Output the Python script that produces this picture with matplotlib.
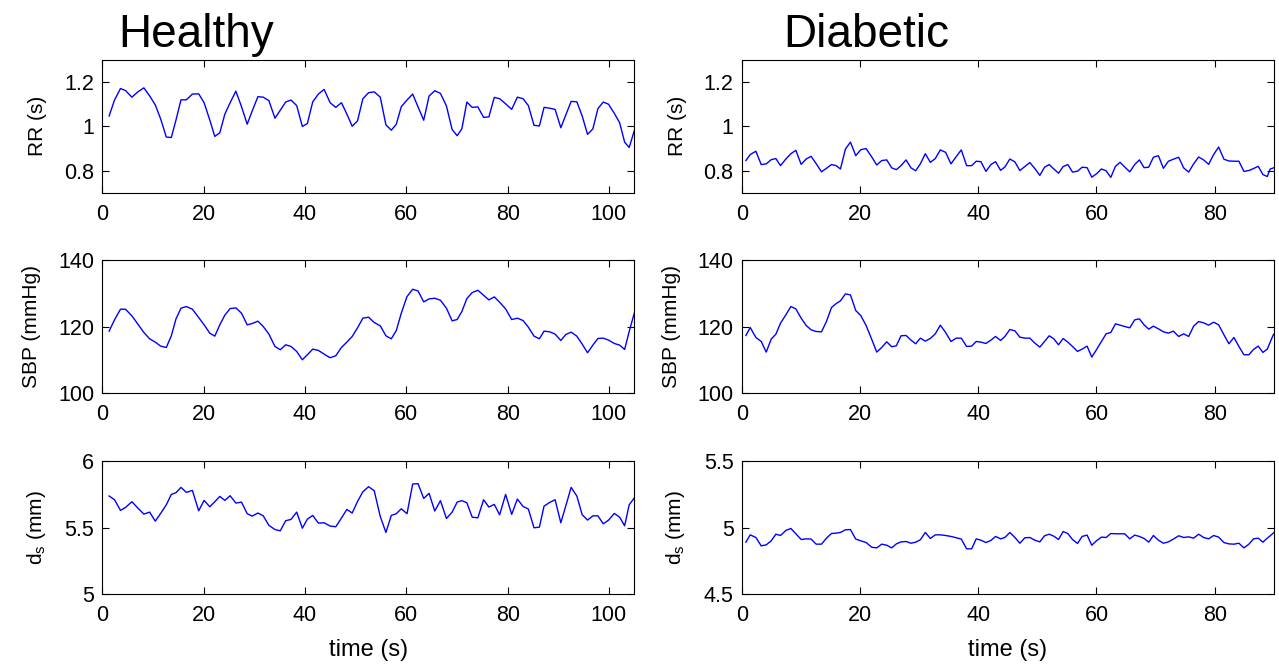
import matplotlib
matplotlib.use("Agg")
import matplotlib.pyplot as plt

plt.rcParams['font.family'] = ['Liberation Sans', 'DejaVu Sans']
plt.rcParams['mathtext.default'] = 'regular'

# beat times (s)
t_healthy = [1.32, 2.38, 3.56, 4.55, 5.81, 7.0, 8.18, 9.31, 10.43, 11.49, 12.61, 13.6,
             14.52, 15.51, 16.57, 17.76, 19.0, 20.07, 21.19, 22.18, 23.17, 24.16, 25.21,
             26.34, 27.46, 28.58, 29.57, 30.69, 31.75, 32.87, 34.06, 35.11, 36.17, 37.23,
             38.35, 39.47, 40.46, 41.52, 42.64, 43.76, 44.95, 46.07, 47.19, 48.25, 49.31,
             50.36, 51.42, 52.54, 53.66, 54.85, 55.97, 57.03, 58.02, 59.0, 60.13, 61.25,
             62.31, 63.43, 64.49, 65.61, 66.73, 67.92, 69.04, 70.03, 70.96, 71.95, 73.0,
             74.12, 75.25, 76.3, 77.36, 78.42, 79.6, 80.8, 81.92, 83.04, 84.09, 85.21,
             86.27, 87.19, 88.32, 89.37, 90.5, 91.49, 92.54, 93.66, 94.72, 95.78, 96.83,
             97.82, 98.88, 99.93, 101.06, 102.11, 103.1, 104.0, 105.0]

rr_healthy = [1.046, 1.118, 1.170, 1.161, 1.131, 1.155, 1.173, 1.137, 1.096, 1.033, 0.951,
              0.949, 1.028, 1.119, 1.119, 1.145, 1.146, 1.106, 1.028, 0.954, 0.970, 1.054,
              1.106, 1.158, 1.088, 1.009, 1.069, 1.133, 1.131, 1.115, 1.036, 1.072, 1.109,
              1.118, 1.093, 0.999, 1.012, 1.110, 1.145, 1.166, 1.106, 1.085, 1.106, 1.055,
              1.000, 1.024, 1.124, 1.151, 1.155, 1.131, 1.006, 0.982, 1.009, 1.088, 1.118,
              1.145, 1.087, 1.027, 1.136, 1.160, 1.148, 1.091, 0.985, 0.957, 0.988, 1.109,
              1.085, 1.087, 1.040, 1.042, 1.130, 1.124, 1.101, 1.076, 1.131, 1.124, 1.093,
              1.004, 1.001, 1.085, 1.081, 1.076, 0.993, 1.051, 1.112, 1.110, 1.046, 0.963,
              0.988, 1.079, 1.109, 1.099, 1.058, 1.016, 0.928, 0.904, 0.979]

sbp_healthy = [118.7, 122.1, 125.3, 125.3, 123.3, 120.8, 118.3, 116.4, 115.4, 114.2, 113.8,
               117.3, 122.4, 125.6, 126.1, 125.3, 122.8, 120.6, 118.1, 117.2, 120.6, 123.5,
               125.5, 125.7, 124.1, 120.6, 121.0, 121.7, 120.1, 117.8, 114.1, 113.1, 114.6,
               114.1, 112.6, 110.1, 111.6, 113.3, 112.9, 111.8, 110.7, 111.3, 113.8, 115.4,
               117.1, 119.7, 122.6, 122.9, 121.3, 120.3, 117.3, 116.4, 118.9, 124.1, 129.1,
               131.3, 130.8, 127.5, 128.4, 128.6, 128.0, 125.6, 121.8, 122.2, 124.6, 128.5,
               130.3, 131.0, 129.5, 128.1, 129.0, 127.4, 125.4, 122.2, 122.6, 121.9, 119.9,
               117.2, 116.4, 118.7, 118.5, 117.8, 115.9, 117.7, 118.4, 117.2, 114.8, 112.2,
               114.5, 116.5, 116.6, 116.0, 115.0, 114.5, 113.2, 118.6, 124.1]

ds_healthy = [5.739, 5.711, 5.631, 5.653, 5.696, 5.648, 5.603, 5.618, 5.550, 5.608, 5.673,
              5.751, 5.764, 5.804, 5.766, 5.781, 5.628, 5.706, 5.658, 5.696, 5.736, 5.706,
              5.741, 5.686, 5.693, 5.606, 5.588, 5.611, 5.590, 5.518, 5.487, 5.477, 5.553,
              5.563, 5.618, 5.497, 5.565, 5.593, 5.535, 5.538, 5.513, 5.508, 5.573, 5.638,
              5.611, 5.698, 5.771, 5.809, 5.779, 5.585, 5.465, 5.593, 5.606, 5.643, 5.606,
              5.829, 5.832, 5.721, 5.759, 5.626, 5.704, 5.570, 5.618, 5.693, 5.704, 5.688,
              5.580, 5.575, 5.711, 5.656, 5.676, 5.598, 5.751, 5.601, 5.716, 5.661, 5.641,
              5.500, 5.505, 5.663, 5.691, 5.711, 5.538, 5.666, 5.804, 5.739, 5.598, 5.558,
              5.590, 5.590, 5.530, 5.558, 5.608, 5.580, 5.515, 5.673, 5.724]

t_diabetic = [0.67, 1.40, 2.36, 3.26, 4.11, 4.95, 5.74, 6.53, 7.43, 8.28, 9.12, 10.02,
              10.87, 11.71, 12.56, 13.46, 14.30, 15.15, 15.94, 16.67, 17.51, 18.36, 19.26,
              20.11, 21.01, 21.97, 22.81, 23.66, 24.50, 25.35, 26.13, 26.92, 27.77, 28.61,
              29.40, 30.19, 31.03, 31.88, 32.72, 33.57, 34.47, 35.37, 36.27, 37.12, 38.02,
              38.87, 39.65, 40.44, 41.29, 42.13, 42.92, 43.77, 44.50, 45.34, 46.19, 47.03,
              47.88, 48.72, 49.57, 50.41, 51.21, 51.99, 52.78, 53.57, 54.36, 55.15, 55.94,
              56.79, 57.57, 58.41, 59.20, 59.99, 60.84, 61.63, 62.42, 63.21, 63.99, 64.78,
              65.63, 66.47, 67.26, 68.05, 68.84, 69.63, 70.48, 71.32, 72.17, 73.01, 73.91,
              74.75, 75.60, 76.44, 77.29, 78.13, 78.98, 79.82, 80.67, 81.57, 82.41, 83.26,
              84.10, 84.95, 85.79, 86.58, 87.37, 88.16, 88.90, 89.40, 89.97]

rr_diabetic = [0.845, 0.872, 0.887, 0.827, 0.830, 0.849, 0.854, 0.822, 0.852, 0.876, 0.891,
               0.828, 0.852, 0.864, 0.831, 0.794, 0.810, 0.827, 0.822, 0.807, 0.897, 0.928,
               0.867, 0.894, 0.899, 0.861, 0.825, 0.845, 0.848, 0.812, 0.804, 0.822, 0.848,
               0.812, 0.799, 0.830, 0.876, 0.837, 0.854, 0.893, 0.882, 0.830, 0.863, 0.893,
               0.822, 0.822, 0.842, 0.840, 0.796, 0.827, 0.840, 0.801, 0.816, 0.852, 0.839,
               0.800, 0.818, 0.836, 0.809, 0.778, 0.815, 0.827, 0.807, 0.788, 0.818, 0.827,
               0.793, 0.797, 0.815, 0.813, 0.770, 0.785, 0.807, 0.799, 0.769, 0.819, 0.837,
               0.816, 0.794, 0.827, 0.848, 0.813, 0.815, 0.860, 0.867, 0.810, 0.842, 0.851,
               0.860, 0.812, 0.793, 0.830, 0.861, 0.848, 0.828, 0.872, 0.906, 0.851, 0.843,
               0.842, 0.842, 0.796, 0.800, 0.809, 0.819, 0.782, 0.773, 0.807, 0.812]

sbp_diabetic = [117.4, 119.8, 116.8, 115.6, 112.4, 116.3, 117.8, 121.1, 123.6, 126.1, 125.4,
                122.6, 120.4, 119.1, 118.6, 118.5, 121.6, 125.8, 127.0, 127.8, 129.9, 129.6,
                124.9, 123.4, 120.4, 116.2, 112.4, 113.8, 115.5, 114.0, 114.3, 117.3, 117.4,
                116.0, 114.9, 116.6, 115.7, 116.5, 117.9, 120.5, 118.3, 115.6, 116.6, 116.6,
                114.1, 114.2, 115.6, 115.4, 115.0, 116.0, 117.1, 115.9, 117.1, 119.2, 118.8,
                116.9, 116.6, 116.6, 115.1, 113.9, 115.6, 117.3, 116.4, 114.6, 116.5, 115.4,
                114.1, 112.6, 113.3, 114.2, 110.9, 113.1, 115.6, 117.9, 118.3, 120.9, 120.5,
                120.1, 119.7, 122.1, 122.4, 120.6, 119.3, 120.2, 119.4, 118.5, 118.1, 118.7,
                117.1, 117.9, 117.1, 120.2, 121.6, 121.2, 120.5, 121.4, 120.6, 117.6, 114.9,
                116.8, 114.1, 111.6, 111.6, 113.2, 114.2, 112.3, 113.3, 115.4, 117.8]

ds_diabetic = [4.892, 4.947, 4.927, 4.864, 4.872, 4.902, 4.952, 4.942, 4.980, 4.995, 4.955,
               4.912, 4.917, 4.915, 4.877, 4.877, 4.922, 4.957, 4.960, 4.965, 4.985, 4.987,
               4.915, 4.902, 4.889, 4.854, 4.849, 4.877, 4.869, 4.849, 4.879, 4.894, 4.897,
               4.884, 4.892, 4.910, 4.965, 4.920, 4.947, 4.947, 4.942, 4.935, 4.925, 4.915,
               4.842, 4.842, 4.917, 4.907, 4.889, 4.905, 4.935, 4.917, 4.927, 4.965, 4.927,
               4.884, 4.925, 4.927, 4.907, 4.894, 4.940, 4.952, 4.937, 4.912, 4.972, 4.957,
               4.912, 4.882, 4.935, 4.945, 4.869, 4.902, 4.930, 4.927, 4.957, 4.955, 4.955,
               4.955, 4.917, 4.945, 4.935, 4.920, 4.892, 4.942, 4.907, 4.884, 4.894, 4.915,
               4.940, 4.927, 4.932, 4.922, 4.952, 4.927, 4.917, 4.942, 4.930, 4.889, 4.879,
               4.877, 4.884, 4.849, 4.877, 4.917, 4.922, 4.892, 4.922, 4.940, 4.962]

ylabels = ['RR (s)', 'SBP (mmHg)', 'd$_s$ (mm)']
titles = ['Healthy', 'Diabetic']

fig = plt.figure(figsize=(12.79, 6.67), dpi=100)

col_left = [0.0801, 0.5801]
col_width = 0.4158
row_bottom = [0.7111, 0.4103, 0.1090]
row_height = 0.1994

columns = [
    (t_healthy, [rr_healthy, sbp_healthy, ds_healthy], 105,
     [(0.7, 1.3), (100, 140), (5, 6)],
     [[0.8, 1, 1.2], [100, 120, 140], [5, 5.5, 6]]),
    (t_diabetic, [rr_diabetic, sbp_diabetic, ds_diabetic], 90,
     [(0.7, 1.3), (100, 140), (4.5, 5.5)],
     [[0.8, 1, 1.2], [100, 120, 140], [4.5, 5, 5.5]]),
]

for c, (t, series, xmax, ylims, yticks) in enumerate(columns):
    for r in range(3):
        ax = fig.add_axes([col_left[c], row_bottom[r], col_width, row_height])
        ax.plot(t, series[r], color='#0000ff', lw=1.0)
        ax.set_xlim(0, xmax)
        ax.set_ylim(*ylims[r])
        ax.set_yticks(yticks[r])
        ax.set_yticklabels(['%g' % v for v in yticks[r]])
        ax.set_xticks(range(0, xmax + 1, 20))
        ax.tick_params(direction='in', top=True, right=True, length=5,
                       width=0.8, labelsize=15.5)
        ax.tick_params(axis='x', pad=8)
        ax.tick_params(axis='y', pad=6)
        for s in ax.spines.values():
            s.set_linewidth(0.8)
        ax.set_ylabel(ylabels[r], fontsize=15, labelpad=12)
        if r == 2:
            ax.set_xlabel('time (s)', fontsize=17, labelpad=9)

fig.text(118 / 1279, 1 - 47 / 667, titles[0], fontsize=33, ha='left', va='baseline')
fig.text(783 / 1279, 1 - 47 / 667, titles[1], fontsize=33, ha='left', va='baseline')

fig.savefig('out.png', dpi=100)
